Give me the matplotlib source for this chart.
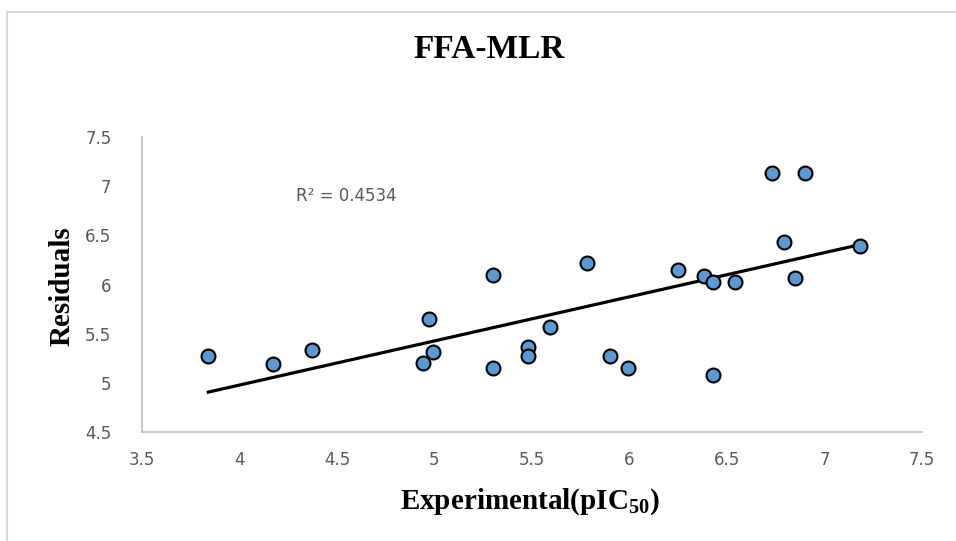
import numpy as np
import matplotlib
matplotlib.use("Agg")
import matplotlib.pyplot as plt
from matplotlib.patches import Rectangle

# values
experimental = [3.84, 4.17, 4.37, 4.94, 4.97, 4.99, 5.30, 5.30, 5.48, 5.48, 5.59, 5.78,
                5.90, 5.99, 6.25, 6.38, 6.43, 6.43, 6.54, 6.73, 6.79, 6.85, 6.90, 7.18]
residuals = [5.27, 5.19, 5.33, 5.20, 5.65, 5.31, 6.10, 5.15, 5.36, 5.27, 5.57, 6.22,
             5.27, 5.15, 6.15, 6.09, 6.03, 5.08, 6.03, 7.13, 6.43, 6.07, 7.13, 6.39]
x_ticks = [3.5, 4, 4.5, 5, 5.5, 6, 6.5, 7, 7.5]
y_ticks = [4.5, 5, 5.5, 6, 6.5, 7, 7.5]
r2_label = "R² = 0.4534"

# serif mathtext so the subscript matches the label font
plt.rcParams["mathtext.fontset"] = "custom"
plt.rcParams["mathtext.rm"] = "Liberation Serif"
plt.rcParams["mathtext.bf"] = "Liberation Serif:bold"

fig = plt.figure(figsize=(9.56, 5.41), dpi=100)
ax = fig.add_axes([142 / 956, 1 - 432 / 541, 780 / 956, 295 / 541])

# linear trendline
slope, intercept = np.polyfit(experimental, residuals, 1)
xs = np.array([min(experimental), max(experimental)])
ax.plot(xs, slope * xs + intercept, color="black", lw=2.3, zorder=2)

ax.scatter(experimental, residuals, s=100, facecolor="#5b9bd5", edgecolor="black",
           linewidth=1.5, zorder=3)

ax.text(4.29, 6.9, r2_label, fontsize=12, color="#595959", ha="left", va="center")

ax.set_xlim(3.5, 7.5)
ax.set_ylim(4.5, 7.5)
ax.set_xticks(x_ticks)
ax.set_yticks(y_ticks)
ax.set_xticklabels([f"{v:g}" for v in x_ticks])
ax.set_yticklabels([f"{v:g}" for v in y_ticks])
ax.tick_params(length=0, labelsize=12, labelcolor="#595959")
ax.tick_params(axis="y", pad=22)
ax.tick_params(axis="x", pad=14)

for side in ["top", "right"]:
    ax.spines[side].set_visible(False)
for side in ["left", "bottom"]:
    ax.spines[side].set_color("#bfbfbf")
    ax.spines[side].set_linewidth(1.2)

serif = ["Liberation Serif", "DejaVu Serif"]
fig.text(489 / 956, 1 - 49 / 541, "FFA-MLR", fontsize=24, fontweight="bold",
         family=serif, ha="center", va="center")
fig.text(530 / 956, 1 - 502 / 541, r"Experimental(pIC$_{\mathbf{50}}$)", fontsize=21,
         fontweight="bold", family=serif, ha="center", va="center")
fig.text(62 / 956, 1 - 286 / 541, "Residuals", fontsize=21, fontweight="bold",
         family=serif, ha="center", va="center", rotation=90)

# chart area border (cropped on right and bottom)
fig.patches.append(Rectangle((7 / 956, -0.1), 1.2, 1.1 - 12 / 541, transform=fig.transFigure,
                             fill=False, edgecolor="#d9d9d9", lw=1.5))

fig.savefig("out.png", dpi=100)
